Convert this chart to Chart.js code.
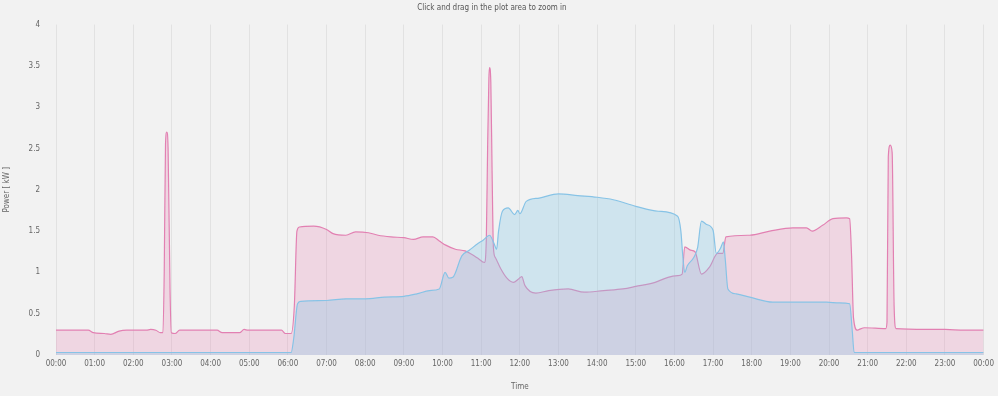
<!DOCTYPE html>
<html>
<head>
<meta charset="utf-8">
<script src="https://cdn.jsdelivr.net/npm/chart.js@4"></script>
<style>
  html, body { margin: 0; padding: 0; background: #f2f2f2; }
  #wrap { width: 998px; height: 396px; }
</style>
</head>
<body>
<div id="wrap"><canvas id="powerChart" width="998" height="396"></canvas></div>
<script>
// consumption (pink)
const useTimes = ["00:00","00:50","00:58","01:15","01:25","01:38","01:50","02:20","02:27","02:35","02:42","02:46","02:48","02:50","02:52","02:54","02:57","02:59","03:05","03:12",
  "04:10","04:18","04:45","04:52","04:58","05:50","05:56","06:05","06:10","06:14","06:18","06:40","07:00","07:10","07:30","07:45","08:05","08:20","08:40","09:00",
  "09:15","09:30","09:45","09:55","10:05","10:20","10:35","10:45","10:55","11:05","11:08","11:10","11:12","11:13","11:15","11:17","11:19","11:22","11:30","11:40",
  "11:50","11:58","12:03","12:08","12:25","12:45","13:15","13:40","14:10","14:40","15:00","15:30","15:50","16:05","16:12","16:16","16:25","16:32","16:42","16:55",
  "17:07","17:15","17:20","17:57","18:28","19:04","19:25","19:34","19:50","20:06","20:27","20:32","20:35","20:38","20:44","20:47","20:55","21:28","21:30","21:32",
  "21:35","21:38","21:41","21:44","22:30","23:00","23:30","24:00"];
const useValues = [0.30,0.30,0.27,0.26,0.25,0.29,0.30,0.30,0.31,0.30,0.27,0.27,1.0,2.55,2.70,2.5,0.8,0.27,0.26,0.30,
  0.30,0.27,0.27,0.31,0.30,0.30,0.26,0.26,0.6,1.5,1.55,1.56,1.52,1.47,1.45,1.49,1.48,1.45,1.43,1.42,
  1.40,1.43,1.43,1.38,1.33,1.28,1.26,1.22,1.17,1.12,1.4,2.5,3.35,3.48,3.3,2.2,1.3,1.18,1.05,0.93,
  0.88,0.92,0.95,0.84,0.75,0.78,0.80,0.76,0.78,0.80,0.83,0.88,0.94,0.96,0.98,1.31,1.27,1.25,0.98,1.07,
  1.23,1.23,1.43,1.45,1.50,1.54,1.54,1.50,1.57,1.65,1.66,1.65,1.2,0.45,0.30,0.31,0.33,0.32,0.4,2.4,
  2.54,2.45,0.6,0.32,0.31,0.31,0.30,0.30];

// solar (blue)
const solarTimes = ["00:00","06:05","06:09","06:15","06:20","07:00","07:30","08:00","08:30","09:00","09:20","09:40","09:55","10:04","10:10","10:16","10:30","10:42","10:55","11:03",
  "11:13","11:20","11:24","11:27","11:33","11:42","11:52","11:57","12:00","12:10","12:30","13:00","13:30","14:00","14:25","15:00","15:35","16:05","16:10","16:13",
  "16:16","16:20","16:30","16:36","16:42","16:50","17:00","17:05","17:12","17:16","17:19","17:23","17:36","17:57","18:33","19:56","20:16","20:32","20:36","20:39","24:00"];
const solarValues = [0.03,0.03,0.2,0.62,0.65,0.66,0.68,0.68,0.70,0.71,0.74,0.78,0.80,1.0,0.93,0.94,1.2,1.27,1.35,1.39,
  1.45,1.35,1.28,1.5,1.74,1.78,1.70,1.75,1.71,1.86,1.90,1.95,1.93,1.91,1.88,1.80,1.74,1.68,1.5,1.2,
  1.0,1.08,1.18,1.3,1.62,1.58,1.51,1.23,1.30,1.37,1.15,0.80,0.74,0.70,0.64,0.64,0.63,0.62,0.3,0.03,0.03];

const yTicks = [0, 0.5, 1, 1.5, 2, 2.5, 3, 3.5, 4];

function toHours(t) {
    const [h, m] = t.split(':').map(Number);
    return h + m / 60;
}
function toPoints(times, values) {
    return times.map((t, i) => ({ x: toHours(t), y: values[i] }));
}
function hourLabel(v) {
    const h = Math.round(v) % 24;
    return (h < 10 ? '0' : '') + h + ':00';
}

const fontFamily = "'Liberation Sans Narrow', 'DejaVu Sans Condensed', Roboto, sans-serif";
Chart.defaults.font.family = fontFamily;
Chart.defaults.color = '#666';

// solar first so it is painted over the consumption fill
const ctx = document.getElementById('powerChart').getContext('2d');
const chart = new Chart(ctx, {
    type: 'line',
    data: {
        datasets: [{
            label: 'Solar',
            data: toPoints(solarTimes, solarValues),
            borderColor: 'rgb(135, 195, 230)',
            backgroundColor: 'rgba(135, 200, 230, 0.32)',
            borderWidth: 1.2,
            fill: 'origin',
            pointRadius: 0,
            cubicInterpolationMode: 'monotone'
        }, {
            label: 'Consumption',
            data: toPoints(useTimes, useValues),
            borderColor: 'rgb(226, 128, 178)',
            backgroundColor: 'rgba(230, 130, 180, 0.25)',
            borderWidth: 1.2,
            fill: 'origin',
            pointRadius: 0,
            cubicInterpolationMode: 'monotone'
        }]
    },
    options: {
        responsive: false,
        animation: false,
        layout: { padding: { left: 0, right: 14, top: 0, bottom: 0 } },
        plugins: {
            legend: { display: false },
            tooltip: { enabled: false },
            title: {
                display: true,
                text: 'Click and drag in the plot area to zoom in',
                color: '#555',
                font: { size: 8, weight: 'normal' },
                padding: { top: 3, bottom: 12 }
            }
        },
        scales: {
            x: {
                type: 'linear',
                min: 0,
                max: 24,
                ticks: {
                    stepSize: 1,
                    autoSkip: false,
                    maxRotation: 0,
                    font: { size: 8 },
                    padding: 4,
                    callback: v => hourLabel(v)
                },
                grid: { color: '#e2e2e2', drawTicks: false },
                border: { display: false },
                title: { display: true, text: 'Time', font: { size: 8 }, padding: { top: 10, bottom: 4 } },
                afterFit: scale => { scale.height = 41; }
            },
            y: {
                min: 0,
                max: 4,
                afterBuildTicks: scale => { scale.ticks = yTicks.map(v => ({ value: v })); },
                ticks: { font: { size: 8 }, padding: 16, callback: v => String(v) },
                grid: { display: false, drawTicks: false },
                border: { display: false },
                title: { display: true, text: 'Power [ kW ]', font: { size: 8 }, padding: 2 },
                afterFit: scale => { scale.width = 56; }
            }
        }
    }
});
</script>
</body>
</html>
